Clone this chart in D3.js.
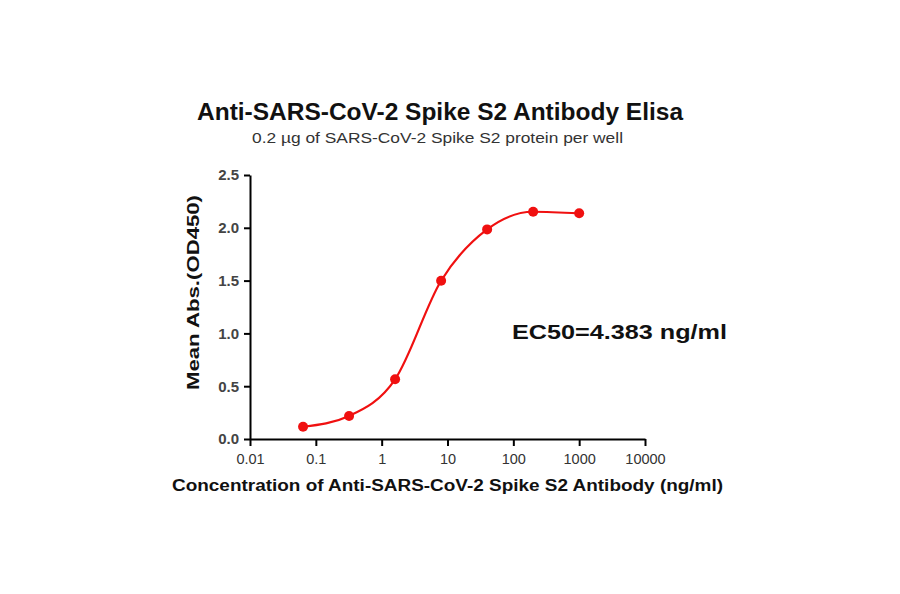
<!DOCTYPE html>
<html>
<head>
<meta charset="utf-8">
<script src="https://cdn.jsdelivr.net/npm/d3@7"></script>
<style>
  body { margin: 0; background: #fff; }
  svg text { font-family: "Liberation Sans", Arial, sans-serif; }
</style>
</head>
<body>
<svg id="chart" width="900" height="594"></svg>
<script>
// data
var concentrations = [0.064, 0.32, 1.6, 8, 40, 200, 1000];
var absorbance = [0.116, 0.218, 0.565, 1.499, 1.985, 2.152, 2.137];
var xTicks = [0.01, 0.1, 1, 10, 100, 1000, 10000];
var xTickLabels = ["0.01", "0.1", "1", "10", "100", "1000", "10000"];
var yTicks = [0, 0.5, 1.0, 1.5, 2.0, 2.5];
var titleText = "Anti-SARS-CoV-2 Spike S2 Antibody Elisa";
var subtitleText = "0.2 \u00b5g of SARS-CoV-2 Spike S2 protein per well";
var xLabel = "Concentration of Anti-SARS-CoV-2 Spike S2 Antibody (ng/ml)";
var yLabel = "Mean Abs.(OD450)";
var ec50Text = "EC50=4.383 ng/ml";

var svg = d3.select('#chart');
var loc = {x: 250, y: 175, w: 395, h: 264};

var xScale = d3.scaleLog()
  .domain([0.01, 10000])
  .range([loc.x, loc.x + loc.w]);
var yScale = d3.scaleLinear()
  .domain([0, 2.5])
  .range([loc.y + loc.h, loc.y]);

var pts = [];
for (var i = 0; i < concentrations.length; i++) {
  pts.push({c: concentrations[i], v: absorbance[i]});
}

// the source font is wider than Liberation, so stretch text to the measured widths
function addText(x, y, txt, size, bold, len, fill) {
  return svg.append('text')
    .attr('x', x).attr('y', y)
    .attr('text-anchor', 'middle')
    .attr('font-size', size)
    .attr('font-weight', bold ? 'bold' : 'normal')
    .attr('fill', fill)
    .attr('textLength', len)
    .attr('lengthAdjust', 'spacingAndGlyphs')
    .text(txt);
}

// titles
addText(440, 120, titleText, 23.5, true, 486, '#111');
addText(437.5, 143, subtitleText, 14, false, 371, '#333');

// axes
var xAxis = d3.axisBottom(xScale)
  .tickValues(xTicks)
  .tickFormat(function(d, i) { return xTickLabels[i]; })
  .tickSize(7).tickSizeOuter(0);
var xAxisEl = svg.append('g')
  .attr('transform', 'translate(0,' + (loc.y + loc.h) + ')')
  .call(xAxis);

var yAxis = d3.axisLeft(yScale)
  .tickValues(yTicks)
  .tickFormat(d3.format('.1f'))
  .tickSize(6).tickSizeOuter(0);
var yAxisEl = svg.append('g')
  .attr('transform', 'translate(' + loc.x + ',0)')
  .call(yAxis);

[xAxisEl, yAxisEl].forEach(function(a) {
  a.select('.domain').attr('stroke', '#000').attr('stroke-width', 2);
  a.selectAll('.tick line').attr('stroke', '#000').attr('stroke-width', 2);
  a.selectAll('.tick text')
    .attr('font-family', '"Liberation Sans", Arial, sans-serif')
    .attr('font-size', 14.5)
    .attr('fill', '#333');
});
xAxisEl.selectAll('.tick text').attr('dy', '1.05em');
yAxisEl.selectAll('.tick text')
  .attr('x', -11)
  .attr('font-size', 15)
  .attr('font-weight', 'bold')
  .attr('fill', '#444');

// axis labels
addText(447.5, 491, xLabel, 16, true, 551, '#111');
addText(0, 0, yLabel, 17, true, 195, '#111')
  .attr('transform', 'translate(199,292.5) rotate(-90)');

// curve through the points
var line = d3.line()
  .x(function(d) { return xScale(d.c); })
  .y(function(d) { return yScale(d.v); })
  .curve(d3.curveMonotoneX);
svg.append('path')
  .datum(pts)
  .attr('d', line)
  .attr('fill', 'none')
  .attr('stroke', '#f01010')
  .attr('stroke-width', 2.2);

svg.selectAll('circle.pt')
  .data(pts)
  .enter()
  .append('circle')
  .attr('class', 'pt')
  .attr('cx', function(d) { return xScale(d.c); })
  .attr('cy', function(d) { return yScale(d.v); })
  .attr('r', 5)
  .attr('fill', '#f01010');

addText(619.5, 339, ec50Text, 21, true, 215, '#111');
</script>
</body>
</html>
